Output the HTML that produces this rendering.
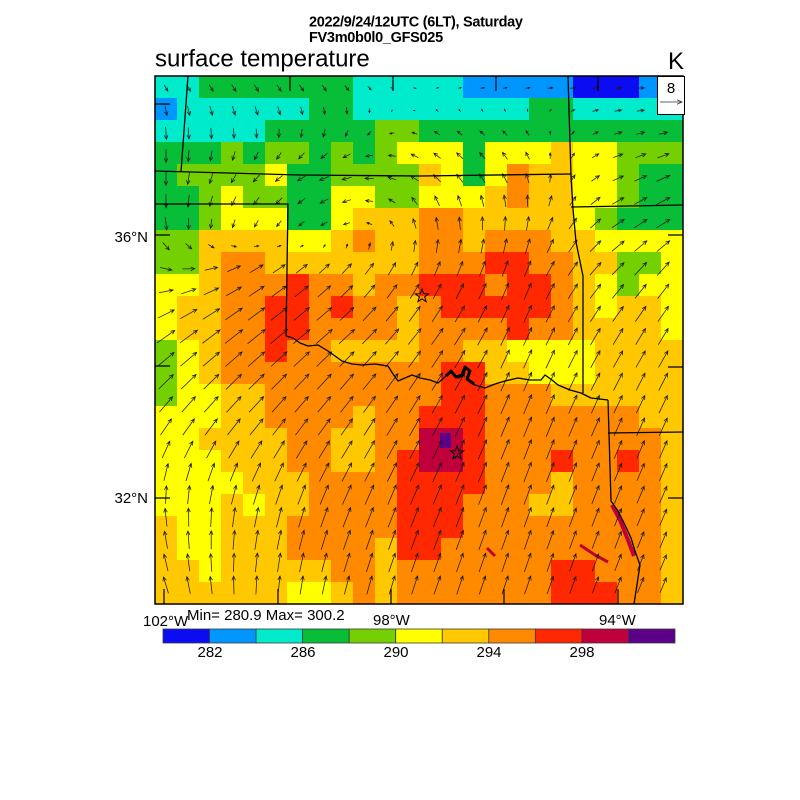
<!DOCTYPE html>
<html><head><meta charset="utf-8">
<style>
html,body{margin:0;padding:0;background:#fff;width:800px;height:800px;overflow:hidden}
svg{display:block}
text{font-family:"Liberation Sans",Arial,sans-serif;fill:#000}
</style></head>
<body>
<svg id="s" width="800" height="800" viewBox="0 0 800 800" xmlns="http://www.w3.org/2000/svg">
<rect width="800" height="800" fill="#fff"/>
<rect x="155" y="76" width="528" height="528" fill="#ff8a00"/>
<g id="map" shape-rendering="crispEdges"></g>
<g id="ov">
  <rect x="440" y="433" width="11" height="15" fill="#5c0089"/>
  <path d="M612,505 L620,520 L628,540 L634,556" stroke="#bf003a" stroke-width="4" fill="none"/>
  <path d="M580,545 L595,555 L608,562" stroke="#bf003a" stroke-width="3" fill="none"/>
  <path d="M487,548 L495,556" stroke="#bf003a" stroke-width="3" fill="none"/>
</g>
<g id="arr" stroke="#1a1a1a" stroke-width="0.75" fill="none"></g>
<g stroke="#000" stroke-width="1.3" fill="none" stroke-linejoin="round">
  <path d="M188,76 L181,172"/>
  <path d="M155,171 L300,175 L420,176 L571,174"/>
  <path d="M155,204 L288,204 L286,336"/>
  <path d="M286,336 L293,338 L300,343 L308,346 L318,345 L328,351 L342,361 L352,364 L362,365 L375,364 L388,366 L393,374 L398,381 L405,378 L412,375 L420,378 L430,380 L438,383 L446,376 L452,372 L458,378 L463,376 L466,368 L470,372 L468,380 L475,385 L485,388 L495,384 L505,381 L518,378 L530,380 L541,380 L545,375 L552,380 L558,385 L570,390 L581,393 L591,398 L608,400"/>
  <path d="M568,76 L571,176 L573,209 L576,242 L583,276 L583,393"/>
  <path d="M608,400 L611,501 L618,511 L625,525 L631,538 L635,551 L640,565 L638,578 L636,591 L634,604"/>
  <path d="M571,207 L683,205"/>
  <path d="M608,433 L683,432"/>
  <path d="M446,376 L451,371 L456,377 L462,375 L465,367 L470,371 L467,379 L474,384" stroke-width="3"/>
</g>
<g fill="none" stroke="#000" stroke-width="1">
  <polygon transform="translate(422,296)" points="0,-7 1.65,-2.27 6.66,-2.16 2.66,0.87 4.11,5.66 0,2.8 -4.11,5.66 -2.66,0.87 -6.66,-2.16 -1.65,-2.27"/>
  <polygon transform="translate(457,453)" points="0,-7 1.65,-2.27 6.66,-2.16 2.66,0.87 4.11,5.66 0,2.8 -4.11,5.66 -2.66,0.87 -6.66,-2.16 -1.65,-2.27"/>
</g>
<rect x="155" y="76" width="528" height="528" fill="none" stroke="#000" stroke-width="1.5"/>
<g stroke="#000" stroke-width="1.2">
  <path d="M290,76 v15 M393,76 v15 M496,76 v15 M598,76 v15"/>
  <path d="M164,604 v-15 M278,604 v-15 M391,604 v-15 M504,604 v-15 M618,604 v-15"/>
  <path d="M155,104 h15 M155,235 h15 M155,366 h15 M155,498 h15"/>
  <path d="M683,104 h-15 M683,235 h-15 M683,367 h-15 M683,498 h-15"/>
</g>
<rect x="657.5" y="76.5" width="27" height="38" fill="#fff" stroke="#000" stroke-width="1"/>
<text x="671" y="93" font-size="15" text-anchor="middle">8</text>
<path d="M660,102 L682,102 M677,99.8 L682,102 L677,104.2" stroke="#333" stroke-width="0.8" fill="none"/>

<text x="309" y="26.5" font-size="14.5" font-weight="bold" letter-spacing="-0.3">2022/9/24/12UTC (6LT), Saturday</text>
<text x="309" y="42" font-size="14.5" font-weight="bold" letter-spacing="-0.3">FV3m0b0l0_GFS025</text>
<text x="155" y="66.5" font-size="24">surface temperature</text>
<text x="668" y="69" font-size="24">K</text>

<text x="148" y="242" font-size="15" text-anchor="end">36°N</text>
<text x="148" y="503" font-size="15" text-anchor="end">32°N</text>
<text x="143" y="626" font-size="15">102°W</text>
<text x="187" y="620" font-size="15">Min= 280.9 Max= 300.2</text>
<text x="373" y="625" font-size="15">98°W</text>
<text x="599" y="625" font-size="15">94°W</text>

<g id="leg" stroke="#3a3a3a" stroke-width="0.8"></g>
<text x="210" y="657" font-size="15" text-anchor="middle">282</text>
<text x="303" y="657" font-size="15" text-anchor="middle">286</text>
<text x="396" y="657" font-size="15" text-anchor="middle">290</text>
<text x="489" y="657" font-size="15" text-anchor="middle">294</text>
<text x="582" y="657" font-size="15" text-anchor="middle">298</text>
</svg>
<script>
(function(){
var C={b:'#0c0cf2',l:'#0096ff',c:'#00ebcb',g:'#08bd38',h:'#74d000',y:'#ffff00',o:'#ffc800',O:'#ff8a00',r:'#ff2800',m:'#bf003a',p:'#5c0089'};
var R=[
"ccgggggggccc"+"cclllllbbbll",
"lccccccggccc"+"cccccggccccc",
"cccccggggghh"+"gggggggggggg",
"ggghghhghghy"+"yygyyyoyyhhh",
"ghhhhygghhhh"+"oygyOooyyhgg",
"gghyhhggyyhh"+"yyyoOooyyhgg",
"gghyyyggyooo"+"OOoooooyhggg",
"hhooooyyoOoo"+"OOoOOOooyyyy",
"hhoOOooooooo"+"OOOrrOOoohhy",
"yyoOOOrOOoOO"+"rrrOrrOoyhyy",
"yooOOrrOrOOo"+"OrrrrrOoyooy",
"yooOOrrOOOOo"+"OOOOrOOooooy",
"hyoOOrOOoooo"+"OOooyyyyoooo",
"hyoOOOOOOOOO"+"Orrooyyyoooo",
"hyyooOOOOOOO"+"OrrOOOoooooo",
"yyyooOOOOoOO"+"rrrOOOOOOOoo",
"yyooooOOooOO"+"mmrOOOOOOOOo",
"yyyoooOOooOr"+"mmrOOOrOOrOo",
"yyyyoooOOOOr"+"rrrOOOoOOOOo",
"yyyoyooOOOOr"+"rrOOOooOOOOo",
"oyyoooOOOOOr"+"rrOOOOOOOOOo",
"oyyoooOOOOor"+"rOOOOOOOOOOo",
"ooyoooooOOoO"+"OOOOOOrrOOOo",
"ooooooyyoOoO"+"OOOOOOrrrOOo"];
var h='';
for(var j=0;j<24;j++){for(var i=0;i<24;i++){var k=R[j].charAt(i);
h+='<rect x="'+(155+22*i)+'" y="'+(76+22*j)+'" width="22" height="22" fill="'+C[k]+'"/>';}}
document.getElementById('map').innerHTML=h;

var AX=[160,250,340,430,520,610,680],AY=[80,125,170,220,270,330,420,510,600];
var AU=[[4,5,5,4,6,7,7],[1,2,-1,-5,-4,7,8],[0,-6,-10,-8,-5,10,14],[1,-5,-8,-3,1,12,14],[12,14,10,6,6,12,12],[18,18,16,12,8,10,10],[12,14,12,10,8,8,8],[-2,4,8,8,7,7,7],[-6,0,4,6,6,6,6]];
var AV=[[-5,-6,-5,0,0,0,0],[-12,-10,-8,3,4,2,1],[-14,-7,-3,6,9,4,6],[-14,-8,-4,12,14,8,8],[-3,8,10,14,16,12,14],[12,14,14,16,18,16,16],[16,16,16,18,20,18,18],[18,20,20,20,20,18,16],[16,18,18,18,18,16,14]];
function idx(a,v){var i=0;while(i<a.length-2&&v>a[i+1])i++;var t=(v-a[i])/(a[i+1]-a[i]);t=Math.max(0,Math.min(1,t));return[i,t];}
function f(M,x,y){var A=idx(AX,x),B=idx(AY,y),i=A[0],tx=A[1],j=B[0],ty=B[1];
return (M[j][i]*(1-tx)+M[j][i+1]*tx)*(1-ty)+(M[j+1][i]*(1-tx)+M[j+1][i+1]*tx)*ty;}
var a='';
for(var jj=0;jj<23;jj++){for(var ii=0;ii<23;ii++){
var x=166+22.6*ii,y=88+22.6*jj;
var dx=f(AU,x,y),dy=-f(AV,x,y),L=Math.sqrt(dx*dx+dy*dy);if(L<1.5)continue;
var x0=x-dx/2,y0=y-dy/2,x1=x+dx/2,y1=y+dy/2,hx=dx/L,hy=dy/L,hs=Math.min(4,L*0.45);
var p1x=x1-hs*hx+hs*0.45*hy,p1y=y1-hs*hy-hs*0.45*hx,p2x=x1-hs*hx-hs*0.45*hy,p2y=y1-hs*hy+hs*0.45*hx;
a+='M'+x0.toFixed(1)+','+y0.toFixed(1)+'L'+x1.toFixed(1)+','+y1.toFixed(1)+'M'+p1x.toFixed(1)+','+p1y.toFixed(1)+'L'+x1.toFixed(1)+','+y1.toFixed(1)+'L'+p2x.toFixed(1)+','+p2y.toFixed(1);
}}
document.getElementById('arr').innerHTML='<path d="'+a+'"/>';

var LC=['#0c0cf2','#0096ff','#00ebcb','#08bd38','#74d000','#ffff00','#ffc800','#ff8a00','#ff2800','#bf003a','#5c0089'];
var g='',w=512/11;
for(var q=0;q<11;q++){g+='<rect x="'+(163+w*q).toFixed(2)+'" y="629" width="'+w.toFixed(2)+'" height="14" fill="'+LC[q]+'"/>';}
document.getElementById('leg').innerHTML=g;
})();
</script>
</body></html>
